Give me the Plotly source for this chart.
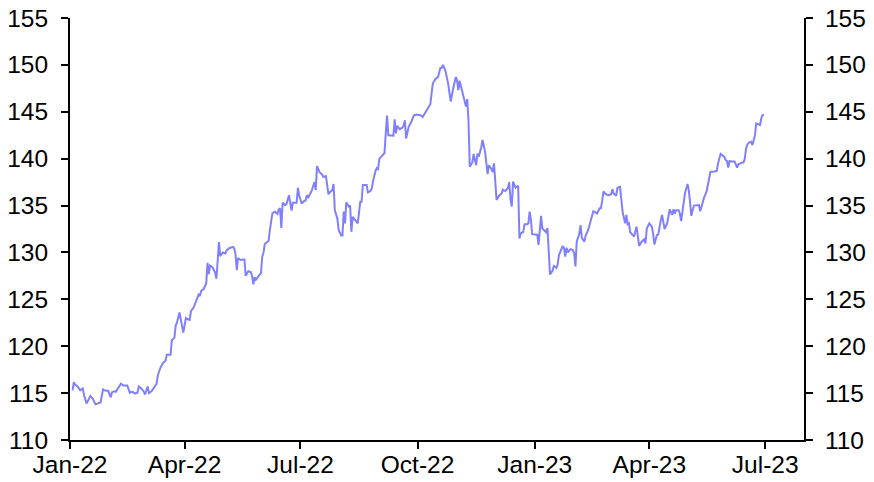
import plotly.graph_objects as go

dates_2022 = [
    "2022-01-03", "2022-01-04", "2022-01-05", "2022-01-07", "2022-01-09", "2022-01-11", "2022-01-12",
    "2022-01-14", "2022-01-15", "2022-01-17", "2022-01-19", "2022-01-21", "2022-01-23", "2022-01-25",
    "2022-01-27", "2022-01-29", "2022-01-31", "2022-02-02", "2022-02-03", "2022-02-05", "2022-02-06",
    "2022-02-08", "2022-02-10", "2022-02-12", "2022-02-15", "2022-02-17", "2022-02-19", "2022-02-21",
    "2022-02-23", "2022-02-24", "2022-02-26", "2022-02-28", "2022-03-01", "2022-03-03", "2022-03-04",
    "2022-03-06", "2022-03-08", "2022-03-10", "2022-03-11", "2022-03-13", "2022-03-15", "2022-03-17",
    "2022-03-18", "2022-03-21", "2022-03-22", "2022-03-24", "2022-03-25", "2022-03-26", "2022-03-28",
    "2022-03-29", "2022-03-31", "2022-04-02", "2022-04-03", "2022-04-05", "2022-04-06", "2022-04-08",
    "2022-04-10", "2022-04-12", "2022-04-13", "2022-04-14", "2022-04-16", "2022-04-18", "2022-04-19",
    "2022-04-20", "2022-04-21", "2022-04-23", "2022-04-25", "2022-04-26", "2022-04-28", "2022-04-29",
    "2022-05-01", "2022-05-03", "2022-05-04", "2022-05-06", "2022-05-09", "2022-05-10", "2022-05-11",
    "2022-05-12", "2022-05-13", "2022-05-15", "2022-05-17", "2022-05-18", "2022-05-19", "2022-05-21",
    "2022-05-23", "2022-05-24", "2022-05-25", "2022-05-26", "2022-05-27", "2022-05-30", "2022-05-31",
    "2022-06-01", "2022-06-02", "2022-06-03", "2022-06-05", "2022-06-06", "2022-06-07", "2022-06-09",
    "2022-06-11", "2022-06-13", "2022-06-14", "2022-06-15", "2022-06-16", "2022-06-17", "2022-06-19",
    "2022-06-20", "2022-06-22", "2022-06-23", "2022-06-24", "2022-06-25", "2022-06-27", "2022-06-28",
    "2022-06-29", "2022-06-30", "2022-07-02", "2022-07-04", "2022-07-05", "2022-07-06", "2022-07-07",
    "2022-07-08", "2022-07-10", "2022-07-12", "2022-07-13", "2022-07-14", "2022-07-16", "2022-07-18",
    "2022-07-19", "2022-07-21", "2022-07-23", "2022-07-24", "2022-07-26", "2022-07-27", "2022-07-28",
    "2022-07-30", "2022-07-31", "2022-08-02", "2022-08-03", "2022-08-04", "2022-08-05", "2022-08-06",
    "2022-08-08", "2022-08-09", "2022-08-10", "2022-08-11", "2022-08-13", "2022-08-15", "2022-08-17",
    "2022-08-18", "2022-08-19", "2022-08-21", "2022-08-22", "2022-08-23", "2022-08-25", "2022-08-26",
    "2022-08-27", "2022-08-29", "2022-08-30", "2022-08-31", "2022-09-01", "2022-09-03", "2022-09-05",
    "2022-09-06", "2022-09-07", "2022-09-08", "2022-09-11", "2022-09-12", "2022-09-13", "2022-09-14",
    "2022-09-15", "2022-09-17", "2022-09-19", "2022-09-20", "2022-09-21", "2022-09-22", "2022-09-24",
    "2022-09-26", "2022-09-28", "2022-09-30", "2022-10-02", "2022-10-03", "2022-10-05", "2022-10-07",
    "2022-10-09", "2022-10-11", "2022-10-12", "2022-10-13", "2022-10-15", "2022-10-17", "2022-10-19",
    "2022-10-20", "2022-10-21", "2022-10-23", "2022-10-25", "2022-10-26", "2022-10-27", "2022-10-29",
    "2022-10-30", "2022-10-31", "2022-11-01", "2022-11-02", "2022-11-03", "2022-11-04", "2022-11-05",
    "2022-11-06", "2022-11-07", "2022-11-08", "2022-11-09", "2022-11-10", "2022-11-11", "2022-11-13",
    "2022-11-14", "2022-11-15", "2022-11-16", "2022-11-17", "2022-11-18", "2022-11-20", "2022-11-21",
    "2022-11-23", "2022-11-24", "2022-11-25", "2022-11-26", "2022-11-27", "2022-11-28", "2022-11-29",
    "2022-11-30", "2022-12-01", "2022-12-02", "2022-12-04", "2022-12-06", "2022-12-07", "2022-12-09",
    "2022-12-11", "2022-12-12", "2022-12-13", "2022-12-14", "2022-12-15", "2022-12-17", "2022-12-18",
    "2022-12-19", "2022-12-20", "2022-12-21", "2022-12-23", "2022-12-24", "2022-12-26", "2022-12-27",
    "2022-12-28", "2022-12-29", "2022-12-30",
]
values_2022 = [
    115.3, 116.15, 115.9, 115.7, 115.3, 115.5, 114.8,
    113.9, 114.15, 114.7, 114.4, 113.8, 113.9, 114.0,
    115.4, 115.25, 115.25, 114.55, 115.1, 115.2, 115.15,
    115.6, 116.0, 115.8, 115.8, 115.05, 115.15, 114.95,
    115.05, 115.7, 115.5, 115.15, 114.85, 115.7, 115.0,
    115.2, 115.6, 116.0, 116.9, 117.7, 118.2, 118.45,
    119.1, 119.1, 120.65, 120.9, 122.2, 122.5, 123.6,
    123.0, 121.45, 123.0, 122.9, 122.8, 123.75, 124.1,
    124.8, 125.5, 125.35, 125.9, 126.1, 126.7, 128.9,
    127.7, 128.6, 128.4, 127.85, 127.2, 131.1, 129.6,
    130.0, 129.9, 130.2, 130.45, 130.6, 130.45, 129.8,
    128.1, 129.4, 129.2, 129.25, 129.25, 127.5, 128.0,
    127.9, 127.5, 126.6, 127.35, 127.1, 127.6, 127.8,
    129.55, 130.0, 130.9, 131.15, 131.25, 132.4, 134.2,
    134.35, 134.1, 134.6, 134.7, 132.6, 135.3, 135.05,
    135.15, 136.1, 135.3, 134.45, 135.3, 135.3, 135.3,
    136.9, 136.1, 135.2, 135.5, 135.5, 136.1, 135.8,
    136.1, 136.65, 137.5, 136.65, 139.2, 138.55, 138.3,
    138.05, 138.15, 136.2, 136.4, 136.65, 137.3, 134.5,
    133.6, 132.4, 131.8, 131.8, 134.35, 133.1, 135.35,
    134.9, 135.0, 132.2, 133.8, 133.45, 133.1, 135.4,
    135.4, 137.2, 137.25, 137.2, 136.4, 136.55, 136.8,
    137.6, 138.7, 139.0, 138.9, 140.0, 140.3, 140.6,
    142.7, 144.6, 142.5, 142.45, 142.45, 144.2, 142.7,
    143.5, 143.15, 143.3, 143.5, 144.1, 142.15, 143.4,
    143.9, 144.6, 144.7, 144.65, 144.65, 144.45, 144.9,
    145.35, 145.8, 146.95, 148.0, 148.5, 148.7, 149.7,
    149.7, 150.0, 149.3, 148.0, 146.95, 146.1, 147.5,
    148.3, 148.7, 148.35, 147.3, 148.3, 147.7, 147.05,
    146.7, 146.15, 145.55, 146.35, 144.0, 139.15, 139.6,
    140.5, 139.85, 139.3, 140.55, 140.2, 141.2, 142.0,
    140.75, 139.3, 138.35, 139.3, 139.15, 138.9, 138.6,
    139.5, 137.6, 135.6, 136.05, 136.3, 136.7, 136.55,
    136.9, 137.5, 135.6, 134.9, 137.55, 136.9, 137.0,
    137.1, 131.5, 132.0, 132.2, 133.0, 133.0, 133.1,
    134.35, 133.5, 131.95,
]

dates_2023 = [
    "2023-01-02", "2023-01-03", "2023-01-04", "2023-01-05", "2023-01-06", "2023-01-07", "2023-01-09",
    "2023-01-10", "2023-01-11", "2023-01-12", "2023-01-13", "2023-01-15", "2023-01-16", "2023-01-18",
    "2023-01-19", "2023-01-20", "2023-01-22", "2023-01-23", "2023-01-24", "2023-01-25", "2023-01-26",
    "2023-01-27", "2023-01-29", "2023-01-31", "2023-02-01", "2023-02-02", "2023-02-03", "2023-02-05",
    "2023-02-06", "2023-02-07", "2023-02-09", "2023-02-10", "2023-02-12", "2023-02-13", "2023-02-15",
    "2023-02-16", "2023-02-18", "2023-02-19", "2023-02-21", "2023-02-22", "2023-02-23", "2023-02-24",
    "2023-02-26", "2023-02-28", "2023-03-02", "2023-03-03", "2023-03-04", "2023-03-05", "2023-03-06",
    "2023-03-07", "2023-03-09", "2023-03-11", "2023-03-12", "2023-03-13", "2023-03-14", "2023-03-15",
    "2023-03-16", "2023-03-17", "2023-03-19", "2023-03-20", "2023-03-22", "2023-03-23", "2023-03-24",
    "2023-03-26", "2023-03-28", "2023-03-29", "2023-03-30", "2023-04-01", "2023-04-03", "2023-04-04",
    "2023-04-05", "2023-04-07", "2023-04-08", "2023-04-10", "2023-04-11", "2023-04-13", "2023-04-15",
    "2023-04-16", "2023-04-17", "2023-04-19", "2023-04-20", "2023-04-21", "2023-04-22", "2023-04-24",
    "2023-04-25", "2023-04-26", "2023-04-28", "2023-04-29", "2023-05-01", "2023-05-02", "2023-05-03",
    "2023-05-04", "2023-05-06", "2023-05-08", "2023-05-10", "2023-05-11", "2023-05-13", "2023-05-14",
    "2023-05-16", "2023-05-17", "2023-05-19", "2023-05-21", "2023-05-24", "2023-05-25", "2023-05-27",
    "2023-05-28", "2023-05-30", "2023-05-31", "2023-06-01", "2023-06-02", "2023-06-03", "2023-06-04",
    "2023-06-06", "2023-06-07", "2023-06-09", "2023-06-10", "2023-06-13", "2023-06-14", "2023-06-15",
    "2023-06-16", "2023-06-17", "2023-06-18", "2023-06-20", "2023-06-21", "2023-06-23", "2023-06-24",
    "2023-06-26", "2023-06-27", "2023-06-28", "2023-06-29", "2023-06-30",
]
values_2023 = [
    131.9, 131.9, 130.8, 132.55, 133.9, 132.55, 132.3,
    132.15, 132.6, 130.25, 127.65, 128.05, 128.55, 128.35,
    128.7, 129.7, 130.35, 130.7, 130.45, 129.55, 130.5,
    130.0, 130.35, 130.25, 129.9, 128.5, 131.15, 132.0,
    132.9, 131.55, 131.15, 131.8, 132.4, 132.85, 133.9,
    134.4, 134.25, 134.15, 134.7, 134.7, 135.5, 136.5,
    136.2, 136.1, 136.2, 136.75, 136.3, 136.2, 136.05,
    136.9, 137.0, 134.35, 133.8, 133.1, 134.0, 133.0,
    133.1, 132.15, 131.85, 131.7, 132.75, 131.5, 130.7,
    131.15, 131.4, 130.95, 132.55, 133.1, 132.75, 132.0,
    130.85, 131.85, 131.9, 133.45, 134.0, 132.5, 133.1,
    133.8, 134.6, 134.0, 134.6, 134.15, 134.5, 134.5,
    134.15, 133.35, 135.05, 136.3, 137.3, 136.65, 135.4,
    133.9, 135.0, 135.05, 135.05, 134.4, 135.4, 135.85,
    136.5, 137.35, 138.6, 138.6, 138.7, 139.5, 140.5,
    140.4, 140.2, 139.85, 139.75, 139.05, 139.75, 139.7,
    139.75, 139.7, 139.05, 139.4, 139.6, 139.6, 140.0,
    141.1, 141.5, 141.7, 141.8, 141.45, 142.5, 143.75,
    143.65, 143.6, 144.35, 144.65, 144.65,
]

tick_dates = ["2022-01-01", "2022-04-01", "2022-07-01", "2022-10-01",
              "2023-01-01", "2023-04-01", "2023-07-01"]
tick_labels = ["Jan-22", "Apr-22", "Jul-22", "Oct-22", "Jan-23", "Apr-23", "Jul-23"]
y_ticks = [110, 115, 120, 125, 130, 135, 140, 145, 150, 155]

dates = dates_2022 + dates_2023
values = values_2022 + values_2023

line_color = "#8080ff"
font = dict(family="Liberation Sans, Arial, sans-serif", size=24.5, color="black")

fig = go.Figure()
fig.add_trace(go.Scatter(x=dates, y=values, mode="lines",
                         line=dict(color=line_color, width=2),
                         showlegend=False, hoverinfo="skip"))
fig.add_trace(go.Scatter(x=dates, y=values, mode="lines", yaxis="y2",
                         line=dict(color="rgba(0,0,0,0)", width=0),
                         showlegend=False, hoverinfo="skip"))

axis_common = dict(showgrid=False, zeroline=False, showline=True, linecolor="black",
                   linewidth=2, ticks="outside", ticklen=7, tickwidth=2, tickcolor="black",
                   tickfont=font, automargin=False, ticklabeloverflow="allow")

fig.update_layout(
    width=874, height=482,
    margin=dict(l=70, r=70, t=18, b=42),
    paper_bgcolor="white", plot_bgcolor="white",
    xaxis=dict(range=["2022-01-01", "2023-07-31 12:00"], tickmode="array",
               tickvals=tick_dates, ticktext=tick_labels, ticklabelstandoff=-5, **axis_common),
    yaxis=dict(range=[110, 155], tickmode="array", tickvals=y_ticks,
               ticklabelstandoff=8, **axis_common),
    yaxis2=dict(range=[110, 155], tickmode="array", tickvals=y_ticks, overlaying="y",
                side="right", ticklabelstandoff=7, **axis_common),
)

# remove the default page margin so the figure fills the window exactly
fig.write_html("out.html",
               config={"displayModeBar": False, "staticPlot": True},
               post_script="document.body.style.margin='0';document.body.style.overflow='hidden';")
